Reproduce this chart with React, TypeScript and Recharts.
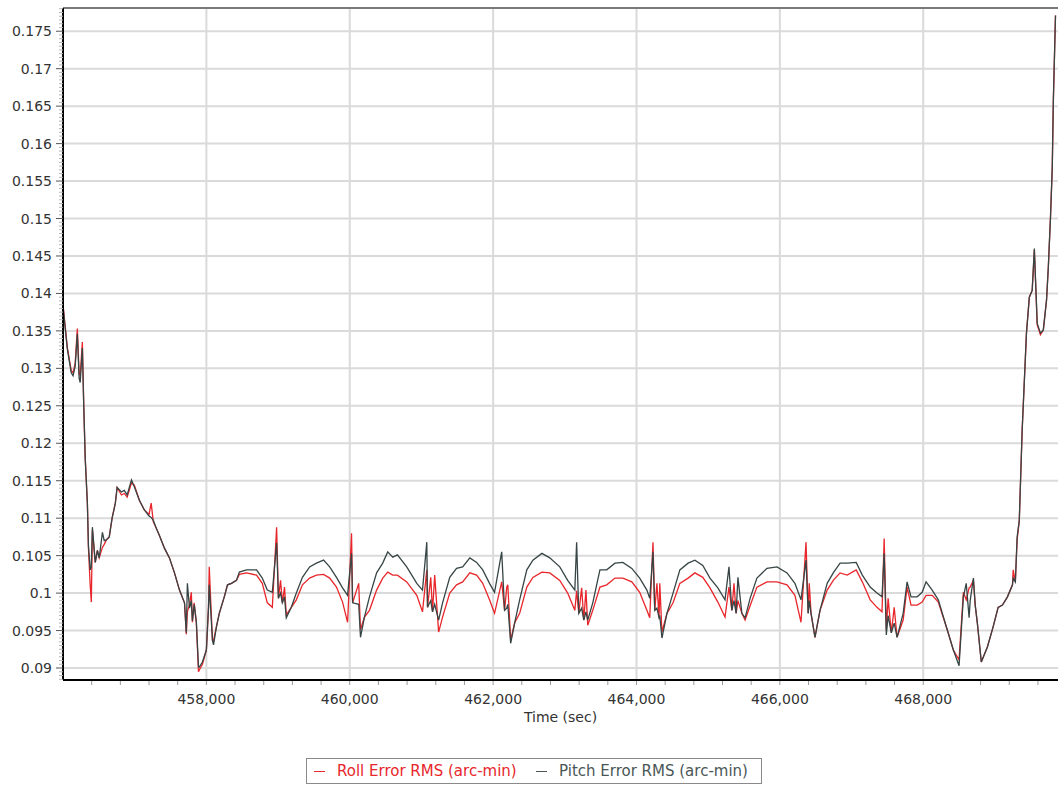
import React from 'react';
import { LineChart, Line, XAxis, YAxis, CartesianGrid, ReferenceLine, Label } from 'recharts';

// time stamps (sec)
const timeSec = [
  456000, 456060, 456115, 456140, 456170, 456200, 456225, 456240, 456270, 456290,
  456310, 456340, 456355, 456380, 456395, 456410, 456450, 456480, 456505, 456550,
  456575, 456605, 456645, 456685, 456730, 456755, 456815, 456855, 456895, 456955,
  456995, 457065, 457135, 457200, 457230, 457260, 457300, 457345, 457415, 457485,
  457555, 457625, 457695, 457720, 457735, 457765, 457790, 457805, 457830, 457860,
  457890, 457900, 457945, 458000, 458030, 458040, 458085, 458100, 458140, 458180,
  458250, 458295, 458350, 458420, 458460, 458560, 458700, 458780, 458850, 458920,
  458980, 459005, 459035, 459060, 459090, 459115, 459185, 459255, 459340, 459440,
  459535, 459635, 459720, 459815, 459900, 459970, 460025, 460040, 460125, 460150,
  460205, 460275, 460375, 460460, 460530, 460600, 460665, 460795, 460935, 461015,
  461075, 461085, 461130, 461155, 461185, 461240, 461295, 461395, 461490, 461575,
  461675, 461770, 461855, 461950, 462020, 462120, 462160, 462190, 462205, 462245,
  462300, 462370, 462470, 462555, 462680, 462790, 462930, 463040, 463140, 463165,
  463195, 463235, 463265, 463295, 463320, 463390, 463490, 463585, 463700, 463810,
  463935, 464045, 464145, 464185, 464230, 464255, 464285, 464315, 464325, 464355,
  464425, 464510, 464605, 464720, 464815, 464925, 465025, 465135, 465235, 465290,
  465330, 465360, 465390, 465415, 465470, 465515, 465585, 465680, 465820, 465960,
  466100, 466210, 466295, 466365, 466395, 466410, 466435, 466490, 466560, 466660,
  466745, 466840, 466940, 467065, 467150, 467260, 467355, 467425, 467455, 467485,
  467510, 467555, 467595, 467635, 467720, 467775, 467830, 467915, 467985, 468040,
  468125, 468210, 468335, 468420, 468500, 468560, 468600, 468640, 468655, 468700,
  468725, 468755, 468810, 468895, 468975, 469045, 469105, 469175, 469245, 469255,
  469285, 469310, 469340, 469380, 469440, 469480, 469520, 469550, 469590, 469635,
  469675, 469720, 469745, 469775, 469800, 469815, 469845,
];

// Roll Error RMS (arc-min)
const rollRms = [
  0.1385, 0.1328, 0.1297, 0.1294, 0.1307, 0.1353, 0.1293, 0.1290, 0.1335, 0.1248,
  0.1180, 0.1120, 0.1060, 0.1010, 0.0988, 0.1084, 0.1041, 0.1057, 0.1047, 0.1061,
  0.1065, 0.1071, 0.1075, 0.1100, 0.1120, 0.1141, 0.1131, 0.1133, 0.1128, 0.1147,
  0.1144, 0.1124, 0.1111, 0.1105, 0.1120, 0.1095, 0.1087, 0.1077, 0.1060, 0.1047,
  0.1027, 0.1004, 0.0987, 0.0945, 0.0975, 0.0985, 0.1001, 0.0961, 0.0987, 0.0960,
  0.0895, 0.0897, 0.0905, 0.0924, 0.0981, 0.1035, 0.0937, 0.0937, 0.0955, 0.0973,
  0.0995, 0.1011, 0.1013, 0.1017, 0.1025, 0.1027, 0.1024, 0.1013, 0.0987, 0.0981,
  0.1088, 0.0993, 0.1017, 0.0987, 0.1008, 0.0971, 0.0981, 0.0991, 0.1011, 0.1020,
  0.1024, 0.1025, 0.1020, 0.1008, 0.0988, 0.0961, 0.1080, 0.0987, 0.1013, 0.0951,
  0.0968, 0.0977, 0.1004, 0.1020, 0.1028, 0.1024, 0.1024, 0.1015, 0.0997, 0.0975,
  0.1031, 0.0981, 0.1021, 0.0975, 0.1024, 0.0948, 0.0968, 0.1000, 0.1011, 0.1015,
  0.1027, 0.1024, 0.1013, 0.0991, 0.0973, 0.1015, 0.0977, 0.1008, 0.1011, 0.0937,
  0.0960, 0.0973, 0.1008, 0.1021, 0.1028, 0.1027, 0.1017, 0.1000, 0.0977, 0.1003,
  0.0973, 0.1007, 0.0964, 0.1004, 0.0957, 0.0977, 0.1008, 0.1011, 0.1020, 0.1020,
  0.1015, 0.1001, 0.0977, 0.0967, 0.1068, 0.0977, 0.1013, 0.0967, 0.1013, 0.0948,
  0.0973, 0.0987, 0.1013, 0.1020, 0.1027, 0.1021, 0.1007, 0.0988, 0.0968, 0.1008,
  0.0977, 0.1013, 0.0973, 0.0990, 0.0973, 0.0964, 0.0983, 0.1008, 0.1015, 0.1015,
  0.1011, 0.0997, 0.0961, 0.1068, 0.0973, 0.1013, 0.0973, 0.0941, 0.0977, 0.1004,
  0.1017, 0.1027, 0.1024, 0.1031, 0.1015, 0.0991, 0.0981, 0.0975, 0.1073, 0.0951,
  0.0993, 0.0947, 0.0981, 0.0941, 0.0964, 0.1008, 0.0984, 0.0984, 0.0988, 0.0997,
  0.0997, 0.0988, 0.0951, 0.0924, 0.0911, 0.1001, 0.0991, 0.1007, 0.1008, 0.1017,
  0.0984, 0.0960, 0.0908, 0.0928, 0.0955, 0.0981, 0.0984, 0.0995, 0.1011, 0.1031,
  0.1015, 0.1071, 0.1097, 0.1217, 0.1347, 0.1395, 0.1404, 0.1458, 0.1358, 0.1345,
  0.1351, 0.1391, 0.1435, 0.1501, 0.1568, 0.1657, 0.1771,
];

// Pitch Error RMS (arc-min)
const pitchRms = [
  0.1383, 0.1326, 0.1294, 0.1290, 0.1303, 0.1346, 0.1287, 0.1281, 0.1327, 0.1248,
  0.1180, 0.1120, 0.1063, 0.1031, 0.1035, 0.1088, 0.1041, 0.1057, 0.1047, 0.1081,
  0.1070, 0.1071, 0.1075, 0.1100, 0.1120, 0.1141, 0.1135, 0.1137, 0.1131, 0.1151,
  0.1142, 0.1124, 0.1111, 0.1103, 0.1101, 0.1097, 0.1087, 0.1077, 0.1060, 0.1047,
  0.1027, 0.1004, 0.0987, 0.0947, 0.1013, 0.0980, 0.0990, 0.0963, 0.0985, 0.0962,
  0.0902, 0.0901, 0.0908, 0.0924, 0.0981, 0.1011, 0.0937, 0.0931, 0.0955, 0.0973,
  0.0995, 0.1011, 0.1013, 0.1017, 0.1028, 0.1031, 0.1031, 0.1020, 0.1004, 0.1001,
  0.1067, 0.0993, 0.1000, 0.0987, 0.0995, 0.0967, 0.0981, 0.1000, 0.1021, 0.1035,
  0.1040, 0.1044, 0.1035, 0.1021, 0.1007, 0.0997, 0.1053, 0.0987, 0.0985, 0.0941,
  0.0968, 0.0995, 0.1027, 0.1040, 0.1055, 0.1048, 0.1051, 0.1035, 0.1013, 0.1004,
  0.1068, 0.0981, 0.0990, 0.0975, 0.0985, 0.0964, 0.0987, 0.1021, 0.1033, 0.1035,
  0.1047, 0.1041, 0.1031, 0.1013, 0.1001, 0.1055, 0.0977, 0.0980, 0.0985, 0.0933,
  0.0960, 0.0991, 0.1031, 0.1044, 0.1053, 0.1047, 0.1035, 0.1017, 0.1004, 0.1068,
  0.0973, 0.0980, 0.0964, 0.0975, 0.0964, 0.0987, 0.1031, 0.1031, 0.1040, 0.1041,
  0.1033, 0.1020, 0.1004, 0.0993, 0.1055, 0.0977, 0.0980, 0.0967, 0.0970, 0.0940,
  0.0973, 0.1000, 0.1031, 0.1040, 0.1044, 0.1037, 0.1020, 0.1007, 0.0991, 0.1035,
  0.0977, 0.0990, 0.0973, 0.1021, 0.0973, 0.0967, 0.0993, 0.1020, 0.1033, 0.1035,
  0.1027, 0.1013, 0.0991, 0.1044, 0.0973, 0.0990, 0.0973, 0.0941, 0.0977, 0.1013,
  0.1027, 0.1040, 0.1040, 0.1041, 0.1024, 0.1008, 0.1000, 0.0995, 0.1053, 0.0944,
  0.0970, 0.0947, 0.0960, 0.0941, 0.0973, 0.1015, 0.0995, 0.0995, 0.1001, 0.1015,
  0.1004, 0.0991, 0.0951, 0.0924, 0.0903, 0.0995, 0.1013, 0.0967, 0.0990, 0.1020,
  0.0984, 0.0960, 0.0908, 0.0928, 0.0955, 0.0981, 0.0984, 0.0995, 0.1011, 0.1020,
  0.1015, 0.1075, 0.1097, 0.1217, 0.1347, 0.1395, 0.1404, 0.1460, 0.1360, 0.1347,
  0.1351, 0.1391, 0.1435, 0.1501, 0.1568, 0.1657, 0.1771,
];

const yMajorTicks = [
  0.09, 0.095, 0.1, 0.105, 0.11, 0.115, 0.12, 0.125, 0.13, 0.135,
  0.14, 0.145, 0.15, 0.155, 0.16, 0.165, 0.17, 0.175,
];
const xMajorTicks = [458000, 460000, 462000, 464000, 466000, 468000];

const X_DOMAIN: [number, number] = [456000, 469880];
const Y_DOMAIN: [number, number] = [0.0884, 0.1781];

const ROLL_COLOR = '#e8262b';
const PITCH_COLOR = '#374545';
const FONT = '"DejaVu Sans", Verdana, sans-serif';

const data = timeSec.map((t, i) => ({ t, roll: rollRms[i], pitch: pitchRms[i] }));

// minor tick positions (labels only on the major ones)
const yMinorTicks: number[] = [];
for (let v = 0.0885; v <= Y_DOMAIN[1]; v += 0.0005) yMinorTicks.push(Math.round(v * 10000) / 10000);
const xMinorTicks: number[] = [];
for (let v = 456400; v <= X_DOMAIN[1]; v += 400) xMinorTicks.push(v);

const isMajor = (list: number[], v: number) => list.some((m) => Math.abs(m - v) < 1e-7);

function YTick({ x, y, payload }: any) {
  const v = payload.value;
  const major = isMajor(yMajorTicks, v);
  return (
    <g>
      <line x1={x - (major ? 7 : 4)} x2={x} y1={y} y2={y} stroke={major ? '#555' : '#b5b5b5'} strokeWidth={1} />
      {major && (
        <text x={x - 11} y={y} dy={5} textAnchor="end" fontSize={14} fontFamily={FONT} fill="#333">
          {String(parseFloat(v.toFixed(4)))}
        </text>
      )}
    </g>
  );
}

function XTick({ x, y, payload }: any) {
  const v = payload.value;
  const major = isMajor(xMajorTicks, v);
  return (
    <g>
      <line x1={x} x2={x} y1={y + 1} y2={y + 5} stroke="#9a9a9a" strokeWidth={1} />
      {major && (
        <text x={x} y={y + 24} textAnchor="middle" fontSize={14} fontFamily={FONT} fill="#333">
          {v.toLocaleString('en-US')}
        </text>
      )}
    </g>
  );
}

export default function App() {
  return (
    <div style={{ position: 'relative', width: 1060, height: 786, background: '#fff', fontFamily: FONT }}>
      <style>{'body{margin:0}'}</style>
      <LineChart width={1060} height={731} data={data} margin={{ top: 8, right: 2, bottom: 5, left: 0 }}>
        <CartesianGrid
          stroke="#dadada"
          strokeWidth={2}
          horizontalValues={yMajorTicks}
          verticalValues={xMajorTicks}
        />
        <XAxis
          dataKey="t"
          type="number"
          domain={X_DOMAIN}
          ticks={xMinorTicks}
          allowDataOverflow
          height={46}
          tickLine={false}
          tickSize={0}
          tickMargin={0}
          tick={<XTick />}
          interval={0}
          axisLine={{ stroke: '#000', strokeWidth: 2 }}
        >
          <Label
            value="Time (sec)"
            position="insideBottom"
            offset={4}
            style={{ fontFamily: FONT, fontSize: 14, fill: '#333' }}
          />
        </XAxis>
        <YAxis
          type="number"
          domain={Y_DOMAIN}
          ticks={yMinorTicks}
          allowDataOverflow
          width={63}
          tickLine={false}
          tickSize={0}
          tickMargin={0}
          tick={<YTick />}
          interval={0}
          axisLine={{ stroke: '#000', strokeWidth: 2 }}
        />
        <ReferenceLine y={Y_DOMAIN[1]} stroke="#7a7a7a" strokeWidth={2} />
        <Line
          type="linear"
          dataKey="roll"
          name="Roll Error RMS (arc-min)"
          stroke={ROLL_COLOR}
          strokeWidth={1.3}
          dot={false}
          isAnimationActive={false}
        />
        <Line
          type="linear"
          dataKey="pitch"
          name="Pitch Error RMS (arc-min)"
          stroke={PITCH_COLOR}
          strokeWidth={1.3}
          dot={false}
          isAnimationActive={false}
        />
      </LineChart>

      {/* legend box under the plot */}
      <div
        style={{
          position: 'absolute',
          left: 306,
          top: 758,
          width: 454,
          height: 24,
          border: '1px solid #8a8a8a',
          fontSize: 15,
          lineHeight: '24px',
          whiteSpace: 'nowrap',
        }}
      >
        <div style={{ position: 'absolute', left: 7, top: 12, width: 11, borderTop: `1.5px solid ${ROLL_COLOR}` }} />
        <span style={{ position: 'absolute', left: 30, color: ROLL_COLOR }}>Roll Error RMS (arc-min)</span>
        <div style={{ position: 'absolute', left: 229, top: 12, width: 11, borderTop: '1.5px solid #4a5656' }} />
        <span style={{ position: 'absolute', left: 252, color: '#4a5656' }}>Pitch Error RMS (arc-min)</span>
      </div>
    </div>
  );
}
